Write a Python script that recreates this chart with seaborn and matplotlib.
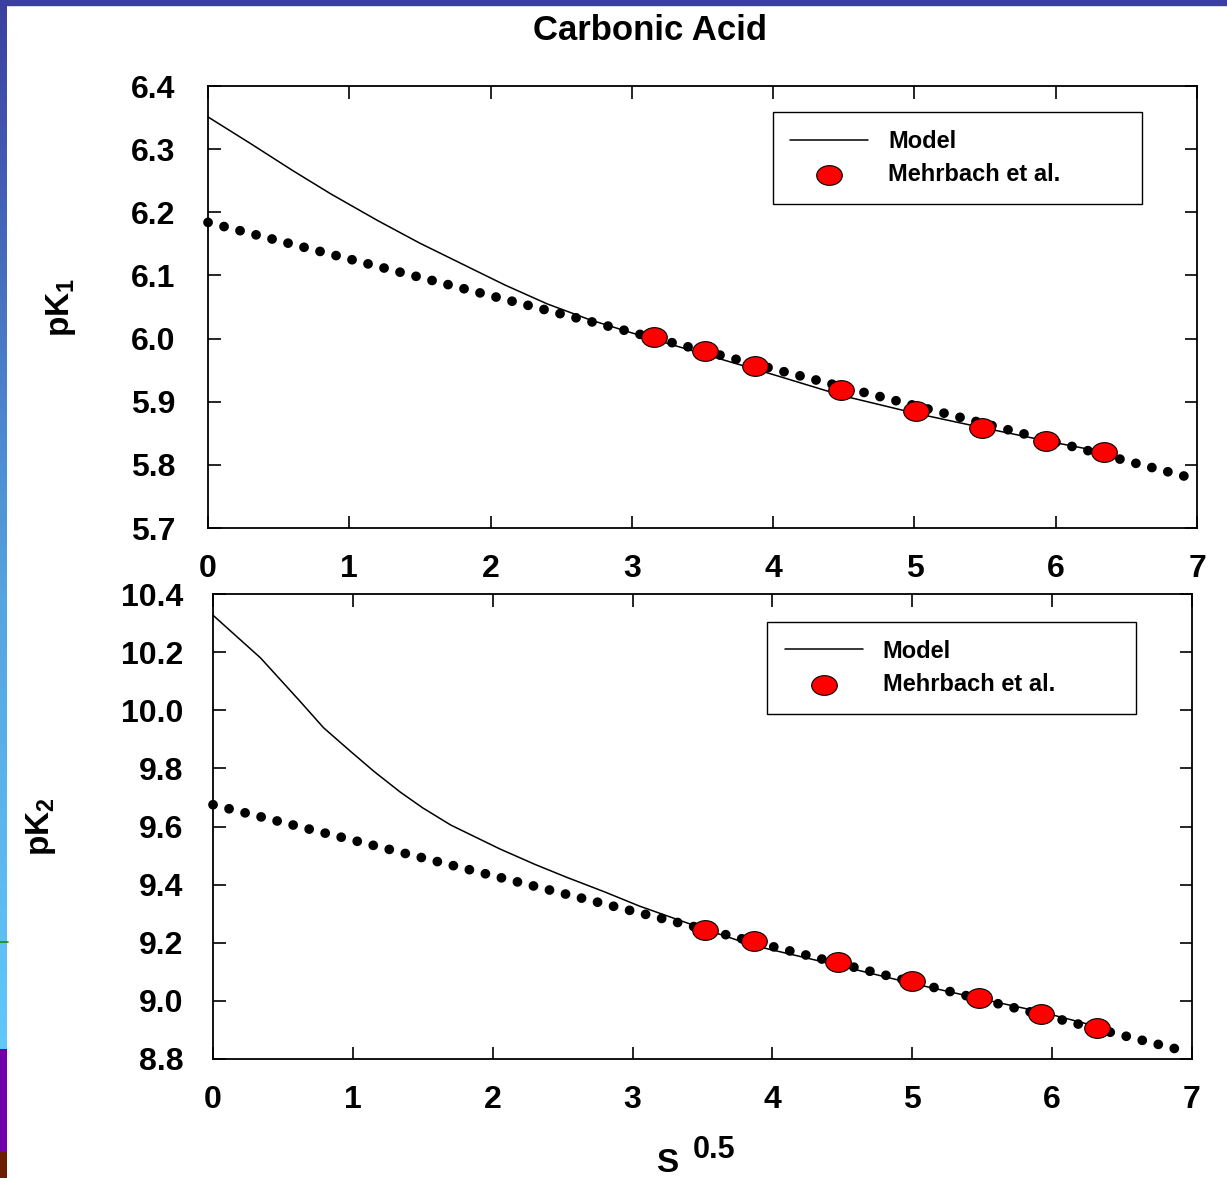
import numpy as np
import matplotlib
matplotlib.use('Agg')
import matplotlib.pyplot as plt
import seaborn as sns
from matplotlib.path import Path
from matplotlib.transforms import Affine2D
from matplotlib.lines import Line2D
from matplotlib.patches import Rectangle

# ---- top panel: pK1 ----
sqrt_s_model1 = [0, 0.3, 0.6, 0.87, 1.2, 1.5, 1.8, 2.1, 2.4, 2.7, 3.0, 3.5, 4.0, 4.5, 5.0, 5.5, 6.0, 6.32]
pk1_model = [6.351, 6.309, 6.266, 6.229, 6.187, 6.151, 6.118, 6.085, 6.055, 6.030, 6.009,
             5.976, 5.943, 5.909, 5.882, 5.858, 5.835, 5.821]
sqrt_s_fit1 = [0, 1, 2, 3, 4, 5, 6, 6.93]
pk1_fit = [6.184, 6.126, 6.068, 6.010, 5.952, 5.894, 5.836, 5.781]
sqrt_s_mehr1 = [3.16, 3.52, 3.87, 4.48, 5.01, 5.48, 5.93, 6.34]
pk1_mehr = [6.002, 5.980, 5.957, 5.918, 5.885, 5.858, 5.837, 5.821]

# ---- bottom panel: pK2 ----
sqrt_s_model2 = [0, 0.34, 0.62, 0.79, 0.98, 1.15, 1.34, 1.5, 1.70, 2.05, 2.3, 2.53, 2.8, 3.05,
                 3.52, 3.86, 4.47, 5.0, 5.5, 5.92, 6.28]
pk2_model = [10.327, 10.180, 10.032, 9.940, 9.860, 9.790, 9.718, 9.664, 9.605, 9.523, 9.470,
             9.425, 9.375, 9.326, 9.246, 9.191, 9.122, 9.060, 9.006, 8.962, 8.917]
sqrt_s_fit2 = [0, 1, 2, 3, 4, 5, 6, 6.9]
pk2_fit = [9.675, 9.553, 9.431, 9.309, 9.187, 9.065, 8.943, 8.833]
sqrt_s_mehr2 = [3.52, 3.87, 4.47, 5.00, 5.48, 5.92, 6.32]
pk2_mehr = [9.245, 9.206, 9.135, 9.069, 9.009, 8.955, 8.907]

sns.set_style('ticks')
plt.rcParams['font.family'] = ['Liberation Sans', 'DejaVu Sans']
plt.rcParams['font.weight'] = 'bold'
plt.rcParams['text.color'] = 'black'
plt.rcParams['axes.labelcolor'] = 'black'
plt.rcParams['mathtext.fontset'] = 'custom'
plt.rcParams['mathtext.rm'] = 'Liberation Sans:bold'
plt.rcParams['mathtext.it'] = 'Liberation Sans:bold'
plt.rcParams['mathtext.bf'] = 'Liberation Sans:bold'
plt.rcParams['mathtext.default'] = 'rm'

W, H = 1227, 1178
fig = plt.figure(figsize=(W / 100, H / 100), dpi=100)
fig.patch.set_facecolor('white')

# slide decoration: blue band on top, coloured strip on the left
fig.patches.append(Rectangle((0, 1 - 5 / H), 1, 5 / H, transform=fig.transFigure,
                             color='#3b3f9f', zorder=0))
strip = np.zeros((H, 1, 3))
blue_top = np.array([59, 63, 159]) / 255
blue_mid = np.array([84, 165, 225]) / 255
blue_low = np.array([97, 200, 250]) / 255
for i in range(H):
    if i < 600:
        t = i / 600
        strip[i, 0] = blue_top * (1 - t) + blue_mid * t
    elif i < 1049:
        t = (i - 600) / 449
        strip[i, 0] = blue_mid * (1 - t) + blue_low * t
    elif i < 1152:
        strip[i, 0] = np.array([112, 0, 170]) / 255
    else:
        strip[i, 0] = np.array([107, 29, 0]) / 255
sax = fig.add_axes([0, 0, 7 / W, 1])
sax.imshow(strip, aspect='auto')
sax.axis('off')
fig.add_artist(Line2D([0, 8 / W], [1 - 942 / H, 1 - 942 / H], color='#1a8a1a', lw=1.2))

ellipse = Path.unit_circle().transformed(Affine2D().scale(1.3, 1.0))


def draw_panel(ax, xm, ym, xf, yf, xp, yp, ylim, yticks, ylabel, ypad, label_x, leg_box):
    sns.lineplot(x=xf, y=yf, ax=ax, color='black', linewidth=7, sort=False)
    dots = ax.lines[-1]
    dots.set_dashes([0.01, 1.69])
    dots.set_dash_capstyle('round')
    dots.set_clip_on(False)

    sns.lineplot(x=xm, y=ym, ax=ax, color='black', linewidth=1.1, sort=False)
    model = ax.lines[-1]
    model.set_clip_on(False)

    sns.scatterplot(x=xp, y=yp, ax=ax, color='red', edgecolor='black', linewidth=0.8,
                    s=340, marker=ellipse, zorder=5)
    pts = ax.collections[-1]

    ax.set_xlim(0, 7)
    ax.set_ylim(*ylim)
    ax.set_xticks(range(8))
    ax.set_yticks(yticks)
    ax.yaxis.set_major_formatter(matplotlib.ticker.FormatStrFormatter('%.1f'))
    ax.tick_params(direction='in', top=True, right=True, length=9, width=1.2,
                   labelsize=23, color='black', labelcolor='black')
    ax.tick_params(axis='y', pad=ypad)
    ax.tick_params(axis='x', pad=19)
    for sp in ax.spines.values():
        sp.set_visible(True)
        sp.set_linewidth(1.3)
        sp.set_color('black')
    ax.set_ylabel(ylabel, fontsize=24, fontweight='bold')
    ax.yaxis.set_label_coords(label_x, 0.5)
    ax.set_xlabel('')

    handles = [Line2D([], [], color='black', lw=1.1), pts]
    leg = ax.legend(handles, ['Model', 'Mehrbach et al.'], loc='upper left',
                    bbox_to_anchor=leg_box, mode='expand', borderaxespad=0,
                    prop={'size': 17, 'weight': 'bold'}, frameon=True, fancybox=False,
                    edgecolor='black', framealpha=1, handlelength=3.3, handletextpad=0.85,
                    borderpad=0.75, labelspacing=0.45, scatterpoints=1)
    leg.get_frame().set_linewidth(1.0)


ax1 = fig.add_axes([208 / W, 1 - 528 / H, 989 / W, 442 / H])
draw_panel(ax1, sqrt_s_model1, pk1_model, sqrt_s_fit1, pk1_fit, sqrt_s_mehr1, pk1_mehr,
           (5.7, 6.4), [5.7, 5.8, 5.9, 6.0, 6.1, 6.2, 6.3, 6.4], 'pK$_1$', 23.5, -0.131,
           (0.571, 0.738, 0.373, 0.203))

ax2 = fig.add_axes([213 / W, 1 - 1059 / H, 979 / W, 465 / H])
draw_panel(ax2, sqrt_s_model2, pk2_model, sqrt_s_fit2, pk2_fit, sqrt_s_mehr2, pk2_mehr,
           (8.8, 10.4), [8.8, 9.0, 9.2, 9.4, 9.6, 9.8, 10.0, 10.2, 10.4], 'pK$_2$', 21.5, -0.158,
           (0.566, 0.748, 0.377, 0.192))

fig.text(650 / W, 1 - 30 / H, 'Carbonic Acid', ha='center', va='center',
         fontsize=25, fontweight='bold')
fig.text(667 / W, 1 - 1163 / H, 'S', ha='center', va='center', fontsize=24, fontweight='bold')
fig.text(714 / W, 1 - 1150 / H, '0.5', ha='center', va='center', fontsize=22, fontweight='bold')

fig.savefig('out.png', dpi=100, facecolor='white')
